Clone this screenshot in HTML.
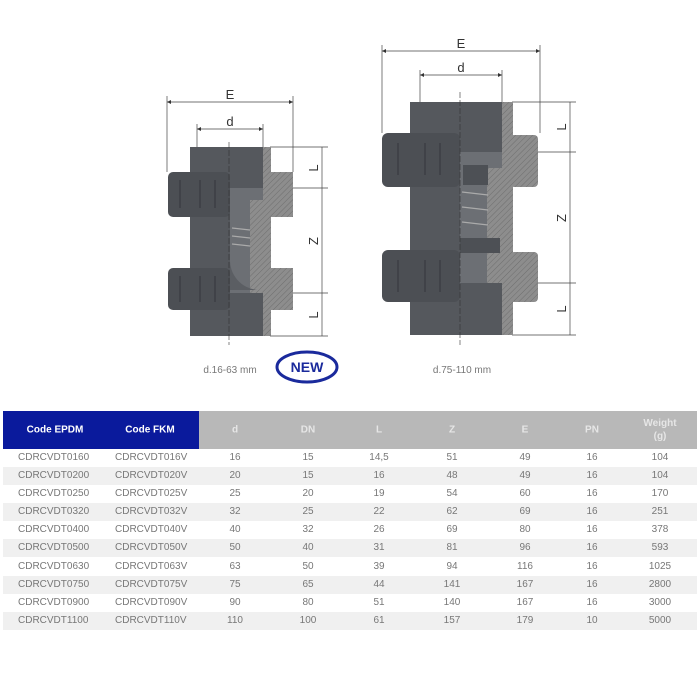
<!DOCTYPE html>
<html><head><meta charset="utf-8"><style>
body{margin:0;width:700px;height:700px;background:#fff;font-family:"Liberation Sans",sans-serif;position:relative;overflow:hidden}
svg{position:absolute;left:0;top:0}
.hd{position:absolute;top:411px;height:38px;}
.r{position:absolute;left:3px;width:694px;height:18px;font-size:10px;color:#777}
.r.g{background:#f0f0f0}
.r span{position:absolute;top:3px;white-space:nowrap}
.c{transform:translateX(-50%)}
.h{position:absolute;font-size:10px;font-weight:bold;white-space:nowrap;transform:translate(-50%,-50%);text-align:center;line-height:13px}
</style></head><body>
<svg width="700" height="410" viewBox="0 0 700 410">
<defs>
<pattern id="h" width="4" height="4" patternUnits="userSpaceOnUse" patternTransform="rotate(45)"><rect width="4" height="4" fill="#8d8d8d"/><line x1="0" y1="0" x2="0" y2="4" stroke="#6e6e6e" stroke-width="1"/></pattern>
<marker id="a" markerWidth="6" markerHeight="6" refX="6" refY="3" orient="auto"><path d="M0,0 L6,3 L0,6z" fill="#333"/></marker>
<marker id="b" markerWidth="6" markerHeight="6" refX="0" refY="3" orient="auto"><path d="M6,0 L0,3 L6,6z" fill="#333"/></marker>
</defs>
<g stroke="#444" stroke-width="0.7" fill="none">
<line x1="167" y1="102" x2="293" y2="102" marker-start="url(#b)" marker-end="url(#a)"/>
<line x1="167" y1="96" x2="167" y2="172"/><line x1="293" y1="96" x2="293" y2="172"/>
<line x1="197" y1="129" x2="263" y2="129" marker-start="url(#b)" marker-end="url(#a)"/>
<line x1="197" y1="124" x2="197" y2="147"/><line x1="263" y1="124" x2="263" y2="147"/>
<line x1="322" y1="147" x2="322" y2="336"/>
<line x1="270" y1="147" x2="328" y2="147"/><line x1="265" y1="188" x2="328" y2="188"/><line x1="265" y1="293" x2="328" y2="293"/><line x1="270" y1="336" x2="328" y2="336"/>
<line x1="382" y1="51" x2="540" y2="51" marker-start="url(#b)" marker-end="url(#a)"/>
<line x1="382" y1="45" x2="382" y2="133"/><line x1="540" y1="45" x2="540" y2="133"/>
<line x1="420" y1="75" x2="502" y2="75" marker-start="url(#b)" marker-end="url(#a)"/>
<line x1="420" y1="70" x2="420" y2="102"/><line x1="502" y1="70" x2="502" y2="102"/>
<line x1="570" y1="102" x2="570" y2="335"/>
<line x1="512" y1="102" x2="576" y2="102"/><line x1="500" y1="152" x2="576" y2="152"/><line x1="500" y1="283" x2="576" y2="283"/><line x1="512" y1="335" x2="576" y2="335"/>
</g>
<rect x="190" y="147" width="73" height="189" fill="#55585d"/>
<rect x="263" y="147" width="8" height="189" fill="url(#h)"/>
<rect x="168" y="172" width="62" height="45" rx="5" fill="#4c4f54"/>
<rect x="168" y="268" width="62" height="42" rx="5" fill="#4c4f54"/>
<rect x="268" y="172" width="25" height="45" fill="url(#h)"/>
<rect x="268" y="268" width="25" height="42" fill="url(#h)"/>
<rect x="230" y="188" width="33" height="105" fill="#6c6f74"/>
<path d="M250 200 L268 200 L268 293 L250 293 Z" fill="url(#h)"/>
<path d="M230 258 A30 30 0 0 0 258 290 L230 290Z" fill="#5b5e63"/>
<g stroke="#aaa" stroke-width="1.2"><line x1="232" y1="228" x2="250" y2="230"/><line x1="232" y1="236" x2="250" y2="238"/><line x1="232" y1="244" x2="250" y2="246"/></g>
<g stroke="#3c3f44" stroke-width="1.5"><line x1="180" y1="180" x2="180" y2="208"/><line x1="200" y1="180" x2="200" y2="208"/><line x1="215" y1="180" x2="215" y2="208"/><line x1="180" y1="276" x2="180" y2="302"/><line x1="200" y1="276" x2="200" y2="302"/><line x1="215" y1="276" x2="215" y2="302"/></g>
<line x1="229" y1="142" x2="229" y2="345" stroke="#333" stroke-width="0.6" stroke-dasharray="6,2"/>
<rect x="410" y="102" width="92" height="233" fill="#55585d"/>
<rect x="502" y="102" width="11" height="233" fill="url(#h)"/>
<rect x="382" y="133" width="78" height="54" rx="6" fill="#4c4f54"/>
<rect x="382" y="250" width="78" height="52" rx="6" fill="#4c4f54"/>
<rect x="510" y="135" width="28" height="52" rx="4" fill="url(#h)"/>
<rect x="510" y="252" width="28" height="50" rx="4" fill="url(#h)"/>
<rect x="460" y="152" width="42" height="131" fill="#6c6f74"/>
<path d="M487 168 L510 168 L510 283 L487 283 Z" fill="url(#h)"/>
<rect x="463" y="165" width="25" height="20" fill="#4d5055"/>
<rect x="460" y="238" width="40" height="15" fill="#4d5055"/>
<g stroke="#aaa" stroke-width="1.2"><line x1="462" y1="192" x2="488" y2="195"/><line x1="462" y1="207" x2="488" y2="210"/><line x1="462" y1="222" x2="488" y2="225"/></g>
<g stroke="#3c3f44" stroke-width="1.5"><line x1="398" y1="143" x2="398" y2="175"/><line x1="425" y1="143" x2="425" y2="175"/><line x1="440" y1="143" x2="440" y2="175"/><line x1="398" y1="260" x2="398" y2="292"/><line x1="425" y1="260" x2="425" y2="292"/><line x1="440" y1="260" x2="440" y2="292"/></g>
<line x1="460" y1="92" x2="460" y2="345" stroke="#333" stroke-width="0.6" stroke-dasharray="6,2"/>
<g font-family="Liberation Sans,sans-serif" fill="#333" font-size="13">
<text x="230" y="99" text-anchor="middle">E</text>
<text x="230" y="126" text-anchor="middle">d</text>
<text x="461" y="48" text-anchor="middle">E</text>
<text x="461" y="72" text-anchor="middle">d</text>
<text transform="translate(318,168) rotate(-90)" text-anchor="middle">L</text>
<text transform="translate(318,241) rotate(-90)" text-anchor="middle">Z</text>
<text transform="translate(318,315) rotate(-90)" text-anchor="middle">L</text>
<text transform="translate(566,127) rotate(-90)" text-anchor="middle">L</text>
<text transform="translate(566,218) rotate(-90)" text-anchor="middle">Z</text>
<text transform="translate(566,309) rotate(-90)" text-anchor="middle">L</text>
</g>
<text x="230" y="373" font-family="Liberation Sans,sans-serif" font-size="10" fill="#777" text-anchor="middle">d.16-63 mm</text>
<text x="462" y="373" font-family="Liberation Sans,sans-serif" font-size="10" fill="#777" text-anchor="middle">d.75-110 mm</text>
<ellipse cx="307" cy="367" rx="30" ry="15" fill="#fff" stroke="#1a2a9c" stroke-width="3"/>
<text x="307" y="372" font-family="Liberation Sans,sans-serif" font-size="14" font-weight="bold" fill="#1a2a9c" text-anchor="middle">NEW</text>
</svg>

<div class="hd" style="left:3px;width:196px;background:#0a1a9c"></div>
<div class="hd" style="left:199px;width:498px;background:#b8b8b8"></div>
<div class="h" style="left:55px;top:430px;color:#fff">Code EPDM</div>
<div class="h" style="left:150px;top:430px;color:#fff">Code FKM</div>
<div class="h" style="left:235px;top:430px;color:#e6e6e6">d</div>
<div class="h" style="left:308px;top:430px;color:#e6e6e6">DN</div>
<div class="h" style="left:379px;top:430px;color:#e6e6e6">L</div>
<div class="h" style="left:452px;top:430px;color:#e6e6e6">Z</div>
<div class="h" style="left:525px;top:430px;color:#e6e6e6">E</div>
<div class="h" style="left:592px;top:430px;color:#e6e6e6">PN</div>
<div class="h" style="left:660px;top:430px;color:#e6e6e6">Weight<br>(g)</div>

<div id="rows"></div>
<div class="r" style="top:449px"><span style="left:15px">CDRCVDT0160</span><span style="left:112px">CDRCVDT016V</span><span class="c" style="left:232px">16</span><span class="c" style="left:305px">15</span><span class="c" style="left:376px">14,5</span><span class="c" style="left:449px">51</span><span class="c" style="left:522px">49</span><span class="c" style="left:589px">16</span><span class="c" style="left:657px">104</span></div>
<div class="r g" style="top:467px"><span style="left:15px">CDRCVDT0200</span><span style="left:112px">CDRCVDT020V</span><span class="c" style="left:232px">20</span><span class="c" style="left:305px">15</span><span class="c" style="left:376px">16</span><span class="c" style="left:449px">48</span><span class="c" style="left:522px">49</span><span class="c" style="left:589px">16</span><span class="c" style="left:657px">104</span></div>
<div class="r" style="top:485px"><span style="left:15px">CDRCVDT0250</span><span style="left:112px">CDRCVDT025V</span><span class="c" style="left:232px">25</span><span class="c" style="left:305px">20</span><span class="c" style="left:376px">19</span><span class="c" style="left:449px">54</span><span class="c" style="left:522px">60</span><span class="c" style="left:589px">16</span><span class="c" style="left:657px">170</span></div>
<div class="r g" style="top:503px"><span style="left:15px">CDRCVDT0320</span><span style="left:112px">CDRCVDT032V</span><span class="c" style="left:232px">32</span><span class="c" style="left:305px">25</span><span class="c" style="left:376px">22</span><span class="c" style="left:449px">62</span><span class="c" style="left:522px">69</span><span class="c" style="left:589px">16</span><span class="c" style="left:657px">251</span></div>
<div class="r" style="top:521px"><span style="left:15px">CDRCVDT0400</span><span style="left:112px">CDRCVDT040V</span><span class="c" style="left:232px">40</span><span class="c" style="left:305px">32</span><span class="c" style="left:376px">26</span><span class="c" style="left:449px">69</span><span class="c" style="left:522px">80</span><span class="c" style="left:589px">16</span><span class="c" style="left:657px">378</span></div>
<div class="r g" style="top:539px"><span style="left:15px">CDRCVDT0500</span><span style="left:112px">CDRCVDT050V</span><span class="c" style="left:232px">50</span><span class="c" style="left:305px">40</span><span class="c" style="left:376px">31</span><span class="c" style="left:449px">81</span><span class="c" style="left:522px">96</span><span class="c" style="left:589px">16</span><span class="c" style="left:657px">593</span></div>
<div class="r" style="top:558px"><span style="left:15px">CDRCVDT0630</span><span style="left:112px">CDRCVDT063V</span><span class="c" style="left:232px">63</span><span class="c" style="left:305px">50</span><span class="c" style="left:376px">39</span><span class="c" style="left:449px">94</span><span class="c" style="left:522px">116</span><span class="c" style="left:589px">16</span><span class="c" style="left:657px">1025</span></div>
<div class="r g" style="top:576px"><span style="left:15px">CDRCVDT0750</span><span style="left:112px">CDRCVDT075V</span><span class="c" style="left:232px">75</span><span class="c" style="left:305px">65</span><span class="c" style="left:376px">44</span><span class="c" style="left:449px">141</span><span class="c" style="left:522px">167</span><span class="c" style="left:589px">16</span><span class="c" style="left:657px">2800</span></div>
<div class="r" style="top:594px"><span style="left:15px">CDRCVDT0900</span><span style="left:112px">CDRCVDT090V</span><span class="c" style="left:232px">90</span><span class="c" style="left:305px">80</span><span class="c" style="left:376px">51</span><span class="c" style="left:449px">140</span><span class="c" style="left:522px">167</span><span class="c" style="left:589px">16</span><span class="c" style="left:657px">3000</span></div>
<div class="r g" style="top:612px"><span style="left:15px">CDRCVDT1100</span><span style="left:112px">CDRCVDT110V</span><span class="c" style="left:232px">110</span><span class="c" style="left:305px">100</span><span class="c" style="left:376px">61</span><span class="c" style="left:449px">157</span><span class="c" style="left:522px">179</span><span class="c" style="left:589px">10</span><span class="c" style="left:657px">5000</span></div>
</body></html>
